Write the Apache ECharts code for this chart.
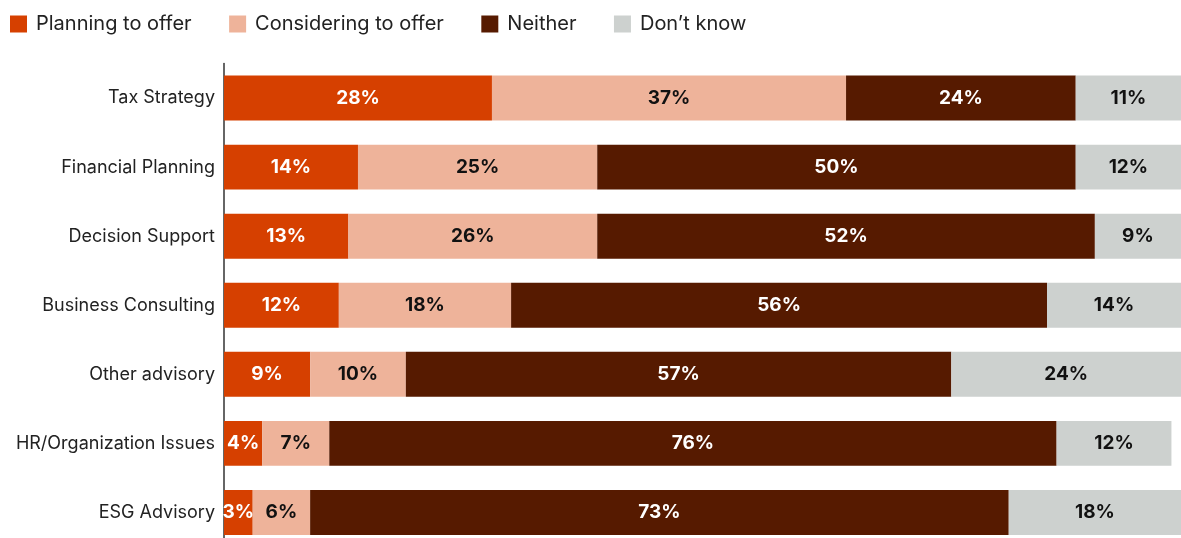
<!DOCTYPE html>
<html>
<head>
<meta charset="utf-8">
<script src="https://cdn.jsdelivr.net/npm/echarts@6/dist/echarts.min.js"></script>
<style>
  html, body { margin: 0; padding: 0; background: #fff; overflow: hidden; }
  /* the last row runs slightly past the bottom edge of the window */
  #chart { width: 1181px; height: 547px; }
</style>
</head>
<body>
<div id="chart"></div>
<script>
// Advisory services: share of firms by intention (percent)
const categories = ['Tax Strategy', 'Financial Planning', 'Decision Support', 'Business Consulting', 'Other advisory', 'HR/Organization Issues', 'ESG Advisory'];
const planning    = [28, 14, 13, 12, 9, 4, 3];
const considering = [37, 25, 26, 18, 10, 7, 6];
const neither     = [24, 50, 52, 56, 57, 76, 73];
const dontKnow    = [11, 12, 9, 14, 24, 12, 18];

const seriesNames  = ['Planning to offer', 'Considering to offer', 'Neither', 'Don\u2019t know'];
const seriesData   = [planning, considering, neither, dontKnow];
const seriesColors = ['#D64000', '#EEB39A', '#561A00', '#CDD1CF'];
const labelColors  = ['#ffffff', '#111111', '#ffffff', '#111111'];

const FONT = 'Inter, "Noto Sans", sans-serif';

const chart = echarts.init(document.getElementById('chart'));
chart.setOption({
  animation: false,
  legend: {
    left: 5, top: 9,
    itemWidth: 17, itemHeight: 17, itemGap: 37.5,
    icon: 'rect',
    textStyle: { fontFamily: FONT, fontSize: 20, color: '#222', padding: [0, 0, 0, 4] },
    data: seriesNames
  },
  grid: { left: 224, right: 0, top: 63.5, bottom: 0, containLabel: false },
  xAxis: {
    type: 'value', min: 0, max: 100,
    show: false
  },
  yAxis: {
    type: 'category',
    data: categories,
    inverse: true,
    axisLine: { show: true, lineStyle: { color: '#333', width: 1.5 } },
    axisTick: { show: false },
    axisLabel: { fontFamily: FONT, fontSize: 18, color: '#222', margin: 9 }
  },
  series: seriesData.map((d, i) => ({
    name: seriesNames[i],
    type: 'bar',
    stack: 'total',
    data: d,
    barCategoryGap: '35%',
    itemStyle: { color: seriesColors[i] },
    label: {
      show: true,
      position: 'inside',
      formatter: '{c}%',
      fontFamily: FONT,
      fontSize: 19,
      fontWeight: 'bold',
      color: labelColors[i]
    }
  }))
});
</script>
</body>
</html>
